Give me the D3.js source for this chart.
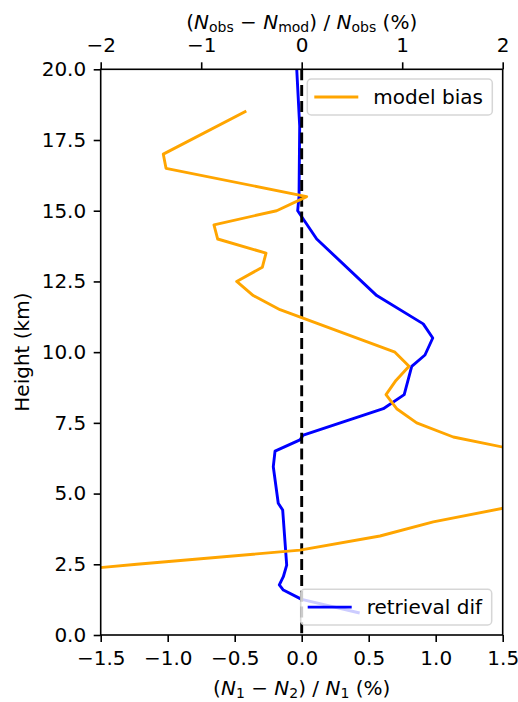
<!DOCTYPE html>
<html>
<head>
<meta charset="utf-8">
<script src="https://cdn.jsdelivr.net/npm/d3@7"></script>
<style>
  html, body { margin: 0; padding: 0; background: #fff; }
  svg { display: block; font-family: "DejaVu Sans", sans-serif; }
</style>
</head>
<body>
<svg id="chart" width="518" height="702"></svg>
<script>
// Retrieval difference (N1 - N2)/N1 in %, bottom axis
const retrievalHeight = [20.0, 18.0, 15.5, 15.0, 14.0, 12.0, 11.0, 10.5, 9.9, 9.5, 8.5, 8.0, 7.07, 6.9, 6.5, 5.95, 4.66, 4.42, 2.47, 2.06, 1.77, 1.59, 1.26, 0.79];
const retrievalDif    = [-0.037, -0.015, -0.02, -0.03, 0.112, 0.56, 0.907, 0.978, 0.92, 0.821, 0.765, 0.609, 0.012, -0.013, -0.199, -0.212, -0.175, -0.142, -0.112, -0.137, -0.167, -0.137, 0.0, 0.422];

// Model bias (Nobs - Nmod)/Nobs in %, top axis
const biasHeight = [18.5, 17.0, 16.5, 15.5, 15.0, 14.5, 14.0, 13.5, 13.0, 12.5, 12.0, 11.5, 10.0, 9.5, 9.0, 8.5, 8.0, 7.5, 7.0, 6.5, 4.5, 4.0, 3.5, 3.0, 2.5, 2.0];
const modelBias  = [-0.564, -1.377, -1.35, 0.05, -0.249, -0.873, -0.836, -0.355, -0.392, -0.647, -0.482, -0.216, 0.928, 1.068, 0.938, 0.839, 0.945, 1.144, 1.508, 2.2, 2.03, 1.309, 0.779, -0.017, -1.64, -3.2];

const bottomTicks = [-1.5, -1.0, -0.5, 0.0, 0.5, 1.0, 1.5];
const topTicks = [-2, -1, 0, 1, 2];
const heightTicks = [0, 2.5, 5, 7.5, 10, 12.5, 15, 17.5, 20];

const FS = 20;
const L = 100.7, R = 502.7, T = 69.3, B = 635;

const svg = d3.select("#chart");

const xB = d3.scaleLinear().domain([-1.5, 1.5]).range([L, R]);
const xT = d3.scaleLinear().domain([-2, 2]).range([L, R]);
const y = d3.scaleLinear().domain([0, 20]).range([B, T]);

svg.append("defs").append("clipPath").attr("id", "plotclip")
  .append("rect").attr("x", L).attr("y", T).attr("width", R - L).attr("height", B - T);

const plot = svg.append("g").attr("clip-path", "url(#plotclip)");

// retrieval difference profile
const retrievalPts = retrievalHeight.map((h, i) => [retrievalDif[i], h]);
plot.append("path")
  .datum(retrievalPts)
  .attr("fill", "none").attr("stroke", "#0000ff").attr("stroke-width", 2.9)
  .attr("stroke-linejoin", "round").attr("stroke-linecap", "square")
  .attr("d", d3.line().x(d => xB(d[0])).y(d => y(d[1])));

// zero reference
plot.append("line")
  .attr("x1", xB(0)).attr("x2", xB(0)).attr("y1", y(20)).attr("y2", y(0))
  .attr("stroke", "#000").attr("stroke-width", 2.9).attr("stroke-dasharray", "11,4.8");

function legend(x0, y0, w, h, color, label) {
  const g = svg.append("g");
  g.append("rect").attr("x", x0).attr("y", y0).attr("width", w).attr("height", h)
    .attr("rx", 4).attr("fill", "#fff").attr("fill-opacity", 0.8)
    .attr("stroke", "#cccccc").attr("stroke-opacity", 0.8).attr("stroke-width", 1.5);
  g.append("line").attr("x1", x0 + 7).attr("x2", x0 + 51).attr("y1", y0 + h / 2).attr("y2", y0 + h / 2)
    .attr("stroke", color).attr("stroke-width", 2.9);
  g.append("text").attr("x", x0 + 66).attr("y", y0 + h / 2 + 7.3)
    .attr("font-size", FS).attr("fill", "#000").text(label);
}

legend(300.7, 589.3, 191, 35.7, "#0000ff", "retrieval dif");

// model bias profile
const biasPts = biasHeight.map((h, i) => [modelBias[i], h]);
plot.append("path")
  .datum(biasPts)
  .attr("fill", "none").attr("stroke", "#ffa500").attr("stroke-width", 2.9)
  .attr("stroke-linejoin", "round").attr("stroke-linecap", "square")
  .attr("d", d3.line().x(d => xT(d[0])).y(d => y(d[1])));

legend(307.3, 79, 185, 36, "#ffa500", "model bias");

// axes
function styleAxis(g) {
  g.selectAll(".domain").remove();
  g.selectAll(".tick line").attr("stroke", "#000").attr("stroke-width", 1.6);
  g.selectAll(".tick text").attr("font-size", FS).attr("fill", "#000")
    .attr("font-family", "DejaVu Sans, sans-serif");
}

svg.append("g").attr("transform", `translate(0,${B})`)
  .call(d3.axisBottom(xB).tickValues(bottomTicks).tickFormat(d3.format(".1f")).tickSize(7).tickPadding(8.5))
  .call(styleAxis);

svg.append("g").attr("transform", `translate(0,${T})`)
  .call(d3.axisTop(xT).tickValues(topTicks).tickFormat(d3.format("d")).tickSize(7).tickPadding(10))
  .call(styleAxis);

svg.append("g").attr("transform", `translate(${L},0)`)
  .call(d3.axisLeft(y).tickValues(heightTicks).tickFormat(d3.format(".1f")).tickSize(7).tickPadding(7.5))
  .call(styleAxis);

// frame
svg.append("rect").attr("x", L).attr("y", T).attr("width", R - L).attr("height", B - T)
  .attr("fill", "none").attr("stroke", "#000").attr("stroke-width", 1.6);

// axis titles with math-style subscripts
function mathLabel(x, yy, parts) {
  const t = svg.append("text").attr("x", x).attr("y", yy).attr("text-anchor", "middle")
    .attr("font-size", FS).attr("fill", "#000");
  parts.forEach(p => {
    const s = t.append("tspan").text(p.t);
    if (p.i) s.attr("font-style", "italic");
    if (p.sub) s.attr("font-size", FS * 0.7).attr("baseline-shift", "-22%");
  });
  return t;
}

mathLabel((L + R) / 2, 28.5, [
  {t: "("}, {t: "N", i: true}, {t: "obs", sub: true}, {t: " \u2212 "},
  {t: "N", i: true}, {t: "mod", sub: true}, {t: ") / "},
  {t: "N", i: true}, {t: "obs", sub: true}, {t: " (%)"}
]);

mathLabel((L + R) / 2, 695, [
  {t: "("}, {t: "N", i: true}, {t: "1", sub: true}, {t: " \u2212 "},
  {t: "N", i: true}, {t: "2", sub: true}, {t: ") / "},
  {t: "N", i: true}, {t: "1", sub: true}, {t: " (%)"}
]);

svg.append("text")
  .attr("transform", `translate(29,${(T + B) / 2}) rotate(-90)`)
  .attr("text-anchor", "middle").attr("font-size", FS).attr("fill", "#000")
  .text("Height (km)");
</script>
</body>
</html>
